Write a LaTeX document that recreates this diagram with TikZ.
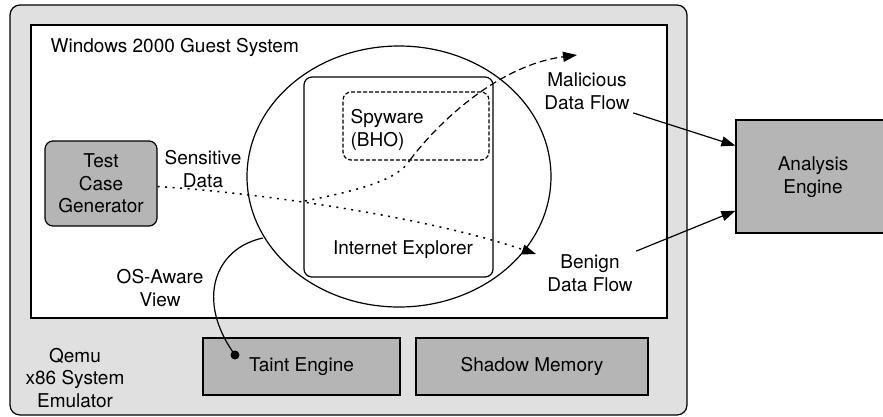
\documentclass[tikz,border=0pt]{standalone}
\usepackage{fontspec}
\setmainfont{TeX Gyre Heros}
\usetikzlibrary{calc,shapes.geometric,arrows.meta}
\definecolor{emugray}{gray}{0.88}
\definecolor{boxgray}{gray}{0.71}

\begin{document}
\begin{tikzpicture}[
x=1pt, y=-1pt, line width=1.2pt,
every node/.style={font=\fontsize{19}{22.5}\selectfont, inner sep=3pt},
frame/.style={draw, line width=1.2pt, inner sep=0pt},
unit/.style={frame, fill=boxgray},
lbl/.style={align=center},
arr/.style={-{Triangle[length=14pt,width=10pt]}},
dotflow/.style={line width=1.5pt, dash pattern=on 2pt off 5.5pt},
dashflow/.style={dash pattern=on 7pt off 4pt}
]
\useasboundingbox (0,0) rectangle (883,416);
% emulator and guest
\node[frame, fill=emugray, rounded corners=10pt, minimum width=677pt, minimum height=410pt] (emu) at (348.5,210) {};
\node[frame, fill=white, minimum width=636pt, minimum height=293pt] (win) at (349,171.5) {};
\node[anchor=west] (winlbl) at (47,47) {Windows 2000 Guest System};
\node[lbl] (emulbl) at (75,378) {Qemu\\x86 System\\Emulator};
% view on the browser
\node[frame, ellipse, minimum width=304pt, minimum height=261pt] (view) at (399,176.5) {};
\node[frame, rounded corners=8pt, minimum width=189pt, minimum height=200pt] (ie) at (398.5,177) {};
\node (ielbl) at (403,250) {Internet Explorer};
\node[frame, rounded corners=8pt, dash pattern=on 4pt off 2pt, minimum width=146pt, minimum height=68pt] (spy) at (416,126) {};
\node[anchor=west, align=left] (spylbl) at (347,130) {Spyware\\(BHO)};
% units
\node[unit, rounded corners=8pt, minimum width=112pt, minimum height=85pt, lbl] (tcg) at (101,183.5) {Test\\Case\\Generator};
\node[lbl] (sens) at (203,169) {Sensitive\\Data};
\node[unit, minimum width=197pt, minimum height=57pt] (taint) at (301.5,366.5) {Taint Engine};
\node[unit, minimum width=232pt, minimum height=57pt] (shadow) at (532,366.5) {Shadow Memory};
\node[unit, minimum width=159pt, minimum height=113pt] (ana) at (815.5,176.5) {};
\node[lbl] (analbl) at (813,177) {Analysis\\Engine};
\node[lbl] (mal) at (587,91) {Malicious\\Data Flow};
\node[lbl] (ben) at (590,273) {Benign\\Data Flow};
\node[lbl, anchor=east] (osv) at (207,288) {OS-Aware\\View};
% flows
\coordinate (split) at (305,201);
\coordinate (bend) at (410,160);
\coordinate (btip) at (536,254);
\coordinate (mtip) at (577,55);
\coordinate (vpt) at (263,238);
\coordinate (tdot) at (235,355);
\draw[dotflow, arr] ($(tcg.east)+(0,3)$) .. controls (250,192) and (420,215) .. (btip);
\draw[dotflow] (split) .. controls (360,190) and (398,180) .. (bend);
\draw[dashflow, arr] (bend) .. controls (440,120) and (500,65) .. (mtip);
\draw[arr] (mal.south east) -- ($(ana.north west)!0.23!(ana.south west)$);
\draw[arr] (ben.north east) -- ($(ana.north west)!0.8!(ana.south west)$);
\draw (vpt) .. controls (215,248) and (195,300) .. (tdot);
\fill (tdot) circle (4.5pt);
\end{tikzpicture}
\end{document}
